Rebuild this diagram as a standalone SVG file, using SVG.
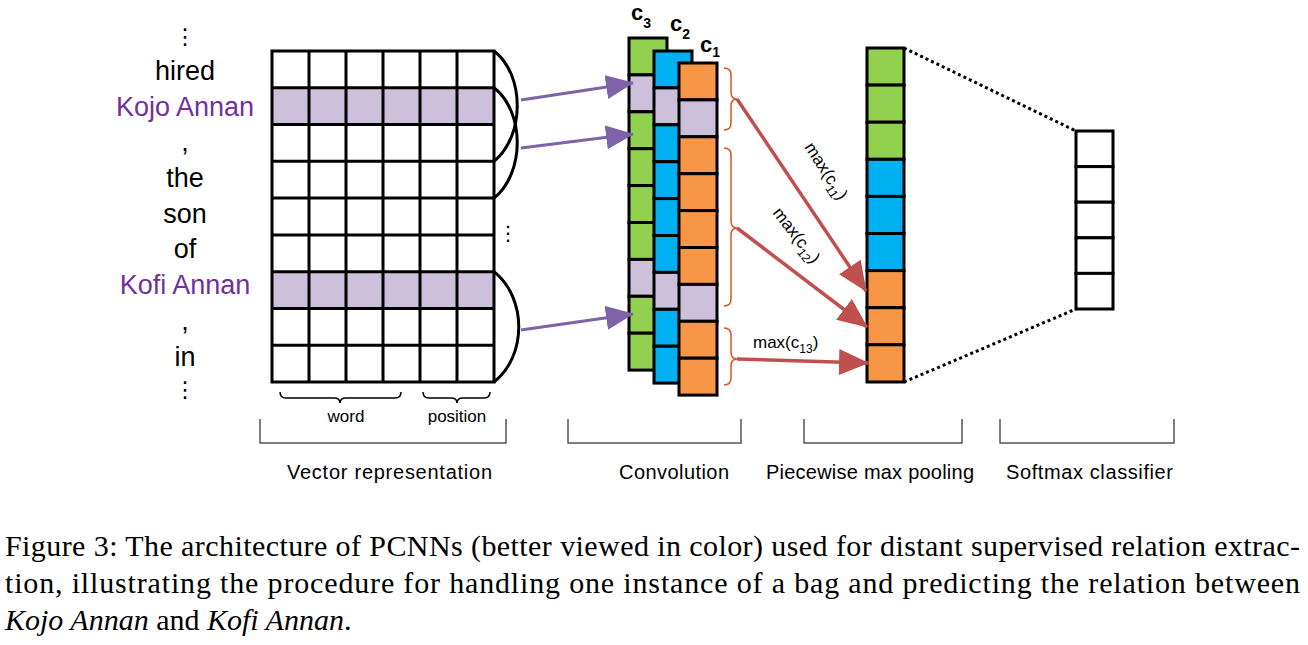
<svg xmlns="http://www.w3.org/2000/svg" width="1308" height="645" viewBox="0 0 1308 645">
<style>
.w{font-family:"Liberation Sans",Arial,sans-serif;font-size:27px;text-anchor:middle;fill:#000}
.p{fill:#7030A0}
.cell{stroke:#000;stroke-width:3}
.g{fill:#92D050}.b{fill:#00B0F0}.o{fill:#F79646}.l{fill:#CCC0DA}.e{fill:#fff}
.lab{font-family:"Liberation Sans",Arial,sans-serif;font-size:20px;fill:#000}
.sm{font-family:"Liberation Sans",Arial,sans-serif;font-size:17px;fill:#000;text-anchor:middle}
.mx{font-family:"Liberation Sans",Arial,sans-serif;font-size:17px;fill:#000}
.cl{font-family:"Liberation Sans",Arial,sans-serif;font-size:22px;font-weight:bold;fill:#000}
.brk{fill:none;stroke:#555;stroke-width:1.5}
.brace{fill:none;stroke:#000;stroke-width:1.5}
.rb{fill:none;stroke:#D9541E;stroke-width:1.5}
.cap{font-family:"Liberation Serif","Times New Roman",serif;font-size:30px;fill:#000}
.dot{fill:none;stroke:#000;stroke-width:3;stroke-dasharray:3,3}
.parr{stroke:#7F63A8;stroke-width:3;fill:none}
.rarr{stroke:#C0504D;stroke-width:3.5;fill:none}
</style>
<defs>
<marker id="ph" markerUnits="userSpaceOnUse" markerWidth="28" markerHeight="24" refX="27" refY="12" orient="auto">
<path d="M0,0 L28,12 L0,24 Z" fill="#7F63A8"/>
</marker>
<marker id="rh" markerUnits="userSpaceOnUse" markerWidth="30" markerHeight="26" refX="29" refY="13" orient="auto">
<path d="M0,0 L30,13 L0,26 Z" fill="#C0504D"/>
</marker>
</defs>

<g id="words">
<text class="w" x="185" y="44" style="font-family:'DejaVu Sans',sans-serif;font-size:22px">⋮</text>
<text class="w" x="185" y="80">hired</text>
<text class="w p" x="185" y="116">Kojo Annan</text>
<text class="w" x="185" y="151">,</text>
<text class="w" x="185" y="187">the</text>
<text class="w" x="185" y="223">son</text>
<text class="w" x="185" y="258">of</text>
<text class="w p" x="185" y="294">Kofi Annan</text>
<text class="w" x="185" y="330">,</text>
<text class="w" x="185" y="366">in</text>
<text class="w" x="185" y="397" style="font-family:'DejaVu Sans',sans-serif;font-size:22px">⋮</text>
</g>

<g id="vector-grid">
<rect x="272" y="51" width="222" height="331" fill="#fff"/>
<rect x="272" y="87.8" width="222" height="36.8" class="l"/>
<rect x="272" y="271.7" width="222" height="36.7" class="l"/>
<g stroke="#000" stroke-width="3" fill="none">
<rect x="272" y="51" width="222" height="331"/>
<path d="M309,51V382M346,51V382M383,51V382M420,51V382M457,51V382"/>
<path d="M272,87.8H494M272,124.6H494M272,161.3H494M272,198.1H494M272,234.9H494M272,271.7H494M272,308.4H494M272,345.2H494"/>
<path d="M494,51 C525,75 525,136 494,161.3"/>
<path d="M494,87.8 C525,112 525,173 494,198.1"/>
<path d="M494,271.7 C527,298 527,356 494,382"/>
</g>
<text x="508" y="240" style="font-family:'DejaVu Sans',sans-serif;font-size:20px;text-anchor:middle">⋮</text>
</g>

<g id="convolution">
<g class="cell">
<rect x="629" y="38" width="38" height="36.9" class="g"/>
<rect x="629" y="74.9" width="38" height="36.9" class="l"/>
<rect x="629" y="111.8" width="38" height="36.9" class="g"/>
<rect x="629" y="148.7" width="38" height="36.9" class="g"/>
<rect x="629" y="185.6" width="38" height="36.9" class="g"/>
<rect x="629" y="222.5" width="38" height="36.9" class="g"/>
<rect x="629" y="259.4" width="38" height="36.9" class="l"/>
<rect x="629" y="296.3" width="38" height="36.9" class="g"/>
<rect x="629" y="333.2" width="38" height="36.9" class="g"/>
</g>
<g class="cell">
<rect x="654" y="51" width="38" height="36.9" class="b"/>
<rect x="654" y="87.9" width="38" height="36.9" class="l"/>
<rect x="654" y="124.8" width="38" height="36.9" class="b"/>
<rect x="654" y="161.7" width="38" height="36.9" class="b"/>
<rect x="654" y="198.6" width="38" height="36.9" class="b"/>
<rect x="654" y="235.5" width="38" height="36.9" class="b"/>
<rect x="654" y="272.4" width="38" height="36.9" class="l"/>
<rect x="654" y="309.3" width="38" height="36.9" class="b"/>
<rect x="654" y="346.2" width="38" height="36.9" class="b"/>
</g>
<g class="cell">
<rect x="679" y="63" width="38" height="36.9" class="o"/>
<rect x="679" y="99.9" width="38" height="36.9" class="l"/>
<rect x="679" y="136.8" width="38" height="36.9" class="o"/>
<rect x="679" y="173.7" width="38" height="36.9" class="o"/>
<rect x="679" y="210.6" width="38" height="36.9" class="o"/>
<rect x="679" y="247.5" width="38" height="36.9" class="o"/>
<rect x="679" y="284.4" width="38" height="36.9" class="l"/>
<rect x="679" y="321.3" width="38" height="36.9" class="o"/>
<rect x="679" y="358.2" width="38" height="36.9" class="o"/>
</g>
<text class="cl" x="631" y="20">c<tspan font-size="14" dy="8">3</tspan></text>
<text class="cl" x="670" y="31">c<tspan font-size="14" dy="8">2</tspan></text>
<text class="cl" x="700" y="52">c<tspan font-size="14" dy="5">1</tspan></text>
<path class="rb" d="M724,68 q7,0 7,7 V92 q0,7 6,7 q-6,0 -6,7 V123 q0,7 -7,7"/>
<path class="rb" d="M724,148 q7,0 7,7 V221 q0,7 6,7 q-6,0 -6,7 V299 q0,7 -7,7"/>
<path class="rb" d="M724,328 q7,0 7,7 V352 q0,7 6,7 q-6,0 -6,7 V378 q0,7 -7,7"/>
</g>

<g id="pooling">
<g class="cell">
<rect x="867" y="48" width="37" height="37.1" class="g"/>
<rect x="867" y="85.1" width="37" height="37.1" class="g"/>
<rect x="867" y="122.2" width="37" height="37.1" class="g"/>
<rect x="867" y="159.3" width="37" height="37.1" class="b"/>
<rect x="867" y="196.4" width="37" height="37.1" class="b"/>
<rect x="867" y="233.5" width="37" height="37.1" class="b"/>
<rect x="867" y="270.6" width="37" height="37.1" class="o"/>
<rect x="867" y="307.7" width="37" height="37.1" class="o"/>
<rect x="867" y="344.8" width="37" height="37.2" class="o"/>
</g>
</g>

<g id="softmax">
<g class="cell">
<rect x="1076" y="131" width="37" height="35.6" class="e"/>
<rect x="1076" y="166.6" width="37" height="35.6" class="e"/>
<rect x="1076" y="202.2" width="37" height="35.6" class="e"/>
<rect x="1076" y="237.8" width="37" height="35.6" class="e"/>
<rect x="1076" y="273.4" width="37" height="35.6" class="e"/>
</g>
</g>

<g id="connectors">
<path class="parr" d="M521,100 L633,83" marker-end="url(#ph)"/>
<path class="parr" d="M521,148 L633,134" marker-end="url(#ph)"/>
<path class="parr" d="M521,330 L633,314" marker-end="url(#ph)"/>
<path class="rarr" d="M737,99 L866,291" marker-end="url(#rh)"/>
<path class="rarr" d="M737,228 L867,327" marker-end="url(#rh)"/>
<path class="rarr" d="M737,359 L868,363" marker-end="url(#rh)"/>
<path class="dot" d="M904,48 L1076,131"/>
<path class="dot" d="M904,382 L1076,309"/>
<text class="mx" transform="translate(804,147) rotate(57)">max(c<tspan font-size="12" dy="5">11</tspan><tspan dy="-5">)</tspan></text>
<text class="mx" transform="translate(772,213) rotate(52)">max(c<tspan font-size="12" dy="5">12</tspan><tspan dy="-5">)</tspan></text>
<text class="mx" x="753" y="348">max(c<tspan font-size="12" dy="5">13</tspan><tspan dy="-5">)</tspan></text>
</g>

<g id="bottom-labels">
<path class="brace" d="M280,392 q0,6 6,6 H334 q6,0 6,5 q0,-5 6,-5 H395 q6,0 6,-6"/>
<path class="brace" d="M423,392 q0,6 6,6 H451 q6,0 6,5 q0,-5 6,-5 H484 q6,0 6,-6"/>
<text class="sm" x="346" y="422">word</text>
<text class="sm" x="457" y="422">position</text>
<path class="brk" d="M260,419 V443 H506 V419"/>
<path class="brk" d="M568,419 V443 H741 V419"/>
<path class="brk" d="M804,419 V443 H962 V419"/>
<path class="brk" d="M1000,419 V443 H1174 V419"/>
<text class="lab" x="287" y="479" textLength="205">Vector representation</text>
<text class="lab" x="619" y="479" textLength="110">Convolution</text>
<text class="lab" x="766" y="479" textLength="208">Piecewise max pooling</text>
<text class="lab" x="1006" y="479" textLength="167">Softmax classifier</text>
</g>

<g id="caption">
<text class="cap" x="5" y="556" textLength="1295" lengthAdjust="spacing">Figure 3: The architecture of PCNNs (better viewed in color) used for distant supervised relation extrac-</text>
<text class="cap" x="5" y="593" textLength="1295" lengthAdjust="spacing">tion, illustrating the procedure for handling one instance of a bag and predicting the relation between</text>
<text class="cap" x="5" y="630"><tspan font-style="italic">Kojo Annan</tspan> and <tspan font-style="italic">Kofi Annan</tspan>.</text>
</g>
</svg>
